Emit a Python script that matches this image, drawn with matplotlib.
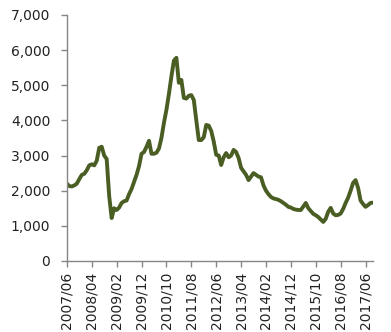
import matplotlib
matplotlib.use("Agg")
import matplotlib.pyplot as plt
from matplotlib.ticker import FuncFormatter

# Monthly values starting 2007/06
start_year, start_month = 2007, 6
values = [
    2200, 2130, 2120, 2150, 2200, 2330, 2450, 2480, 2580, 2720,
    2750, 2720, 2850, 3220, 3250, 3000, 2900, 1850, 1220, 1500,
    1450, 1520, 1650, 1700, 1720, 1900, 2050, 2250, 2450, 2700,
    3050, 3100, 3250, 3420, 3050, 3050, 3080, 3200, 3500, 3930,
    4300, 4750, 5250, 5700, 5780, 5070, 5150, 4640, 4620, 4700,
    4720, 4580, 4000, 3440, 3440, 3520, 3870, 3850, 3700, 3400,
    3020, 3000, 2730, 2950, 3070, 2950, 3000, 3160, 3100, 2930,
    2650, 2550, 2450, 2300, 2400, 2500, 2450, 2400, 2380, 2150,
    2000, 1900, 1820, 1780, 1760, 1740, 1700, 1650, 1600, 1540,
    1520, 1480, 1460, 1450, 1450, 1550, 1650, 1500, 1420, 1340,
    1300, 1250, 1180, 1110, 1200, 1400, 1510, 1350, 1300, 1310,
    1350, 1480, 1650, 1800, 2000, 2220, 2300, 2080, 1720, 1620,
    1540, 1590, 1650, 1660,
]
tick_labels = ["2007/06", "2008/04", "2009/02", "2009/12", "2010/10", "2011/08",
               "2012/06", "2013/04", "2014/02", "2014/12", "2015/10", "2016/08",
               "2017/06"]
y_ticks = [0, 1000, 2000, 3000, 4000, 5000, 6000, 7000]

def month_index(label):
    y, m = label.split("/")
    return (int(y) - start_year) * 12 + int(m) - start_month

x = list(range(len(values)))

fig = plt.figure(figsize=(3.91, 3.32), dpi=100)
ax = fig.add_axes([0.171, 0.214, 0.783, 0.741])
ax.plot(x, values, color="#4a5e24", linewidth=2.8, solid_joinstyle="round", solid_capstyle="round")

ax.set_xlim(0, len(values) - 1)
ax.set_ylim(0, 7000)
ax.set_yticks(y_ticks)
ax.yaxis.set_major_formatter(FuncFormatter(lambda v, p: f"{int(v):,}"))
ax.set_xticks([month_index(l) for l in tick_labels])
ax.set_xticklabels(tick_labels, rotation="vertical")

for s in ["top", "right"]:
    ax.spines[s].set_visible(False)
for s in ["left", "bottom"]:
    ax.spines[s].set_color("#868686")
    ax.spines[s].set_linewidth(1.0)
ax.tick_params(axis="both", direction="out", length=4, width=1.0, color="#868686",
               labelsize=10, labelcolor="#222222")
ax.tick_params(axis="y", pad=8)
for t in ax.get_xticklabels():
    t.set_rotation(90.0)
    t.set_rotation_mode("default")

fig.canvas.draw()
fig.savefig("out.png", dpi=100)
